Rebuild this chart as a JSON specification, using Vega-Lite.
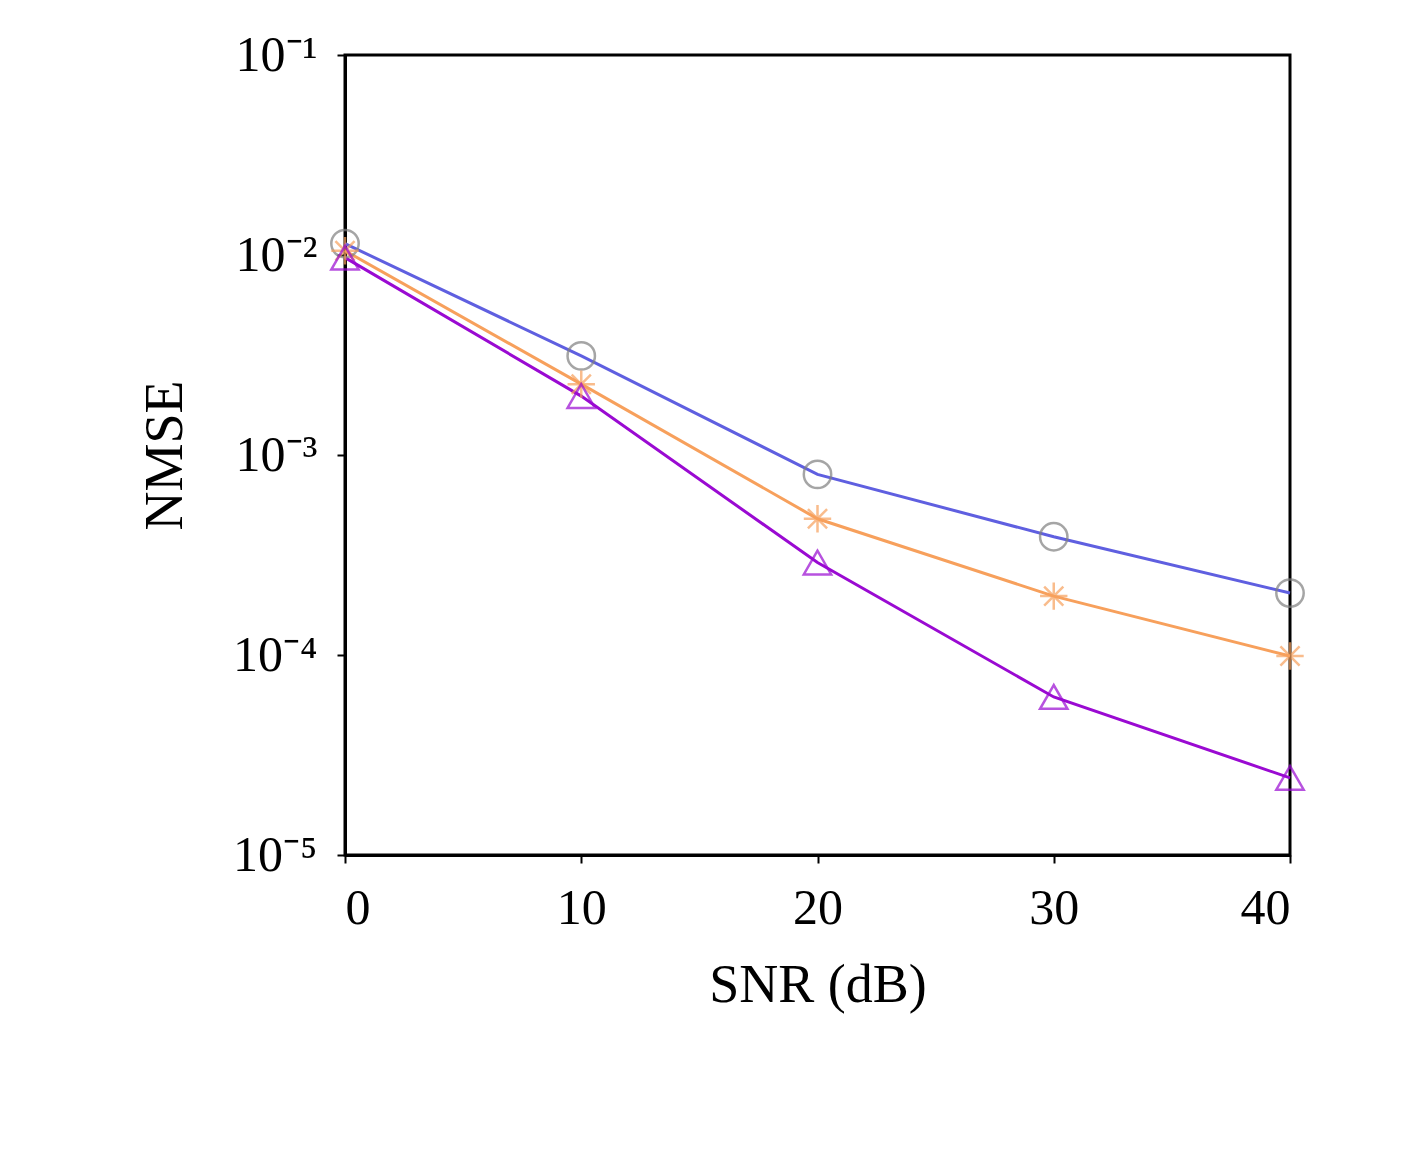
{
  "$schema": "https://vega.github.io/schema/vega-lite/v6.json",
  "width": 945,
  "height": 800,
  "autosize": "none",
  "padding": {"left": 345, "top": 55, "right": 127, "bottom": 319},
  "background": "white",
  "data": {
    "values": [
      {"snr": 0, "nmse": 0.0114, "k": "K=2"},
      {"snr": 10, "nmse": 0.00313, "k": "K=2"},
      {"snr": 20, "nmse": 0.0008, "k": "K=2"},
      {"snr": 30, "nmse": 0.00039, "k": "K=2"},
      {"snr": 40, "nmse": 0.000204, "k": "K=2"},
      {"snr": 0, "nmse": 0.0105, "k": "K=4"},
      {"snr": 10, "nmse": 0.00226, "k": "K=4"},
      {"snr": 20, "nmse": 0.00048, "k": "K=4"},
      {"snr": 30, "nmse": 0.000197, "k": "K=4"},
      {"snr": 40, "nmse": 0.0000988, "k": "K=4"},
      {"snr": 0, "nmse": 0.0097, "k": "K=8"},
      {"snr": 10, "nmse": 0.00197, "k": "K=8"},
      {"snr": 20, "nmse": 0.00029, "k": "K=8"},
      {"snr": 30, "nmse": 0.0000617, "k": "K=8"},
      {"snr": 40, "nmse": 0.0000243, "k": "K=8"}
    ]
  },
  "encoding": {
    "x": {
      "field": "snr", "type": "quantitative", "title": "SNR (dB)",
      "scale": {"domain": [0, 40], "nice": false},
      "axis": {"values": [0, 10, 20, 30, 40], "grid": false, "tickSize": 8, "titlePadding": 25}
    },
    "y": {
      "field": "nmse", "type": "quantitative", "title": "NMSE",
      "scale": {"type": "log", "domain": [0.00001, 0.1], "nice": false},
      "axis": {
        "values": [0.00001, 0.0001, 0.001, 0.01, 0.1], "grid": false, "tickSize": 8,
        "labelExpr": "datum.value >= 0.09 ? '10⁻¹' : datum.value >= 0.009 ? '10⁻²' : datum.value >= 0.0009 ? '10⁻³' : datum.value >= 0.00009 ? '10⁻⁴' : '10⁻⁵'",
        "titlePadding": 40
      }
    },
    "color": {
      "field": "k", "type": "nominal",
      "scale": {"domain": ["K=2", "K=4", "K=8"], "range": ["#5f5fe0", "#f7a05c", "#9a0ad2"]},
      "legend": null
    }
  },
  "layer": [
    {"mark": {"type": "line", "strokeWidth": 3, "clip": false}},
    {
      "mark": {"type": "point", "filled": false, "size": 750, "strokeWidth": 2.5, "clip": false},
      "encoding": {
        "shape": {
          "field": "k", "type": "nominal",
          "scale": {"domain": ["K=2", "K=4", "K=8"], "range": ["circle", "M-1,0L1,0M0,-1L0,1M-0.7,-0.7L0.7,0.7M-0.7,0.7L0.7,-0.7", "triangle-up"]},
          "legend": {
            "orient": "none", "direction": "horizontal", "legendX": -10, "legendY": 1050,
            "title": null, "symbolSize": 500, "symbolStrokeWidth": 3, "labelFontSize": 48,
            "labelFont": "Liberation Serif", "labelFontStyle": "italic", "columnPadding": 100,
            "symbolFillColor": "transparent", "labelColor": "black"
          }
        },
        "stroke": {
          "field": "k", "type": "nominal",
          "scale": {"domain": ["K=2", "K=4", "K=8"], "range": ["#808080", "#f7a05c", "#9a0ad2"]},
          "legend": null
        }
      }
    }
  ],
  "config": {
    "view": {"stroke": "black", "strokeWidth": 3},
    "font": "Liberation Serif",
    "axis": {
      "labelFont": "Liberation Serif", "titleFont": "Liberation Serif",
      "labelFontSize": 50, "titleFontSize": 54, "titleFontWeight": "normal",
      "labelColor": "black", "titleColor": "black", "domainColor": "black",
      "domainWidth": 3, "tickColor": "black", "tickWidth": 2, "labelPadding": 20
    }
  }
}
